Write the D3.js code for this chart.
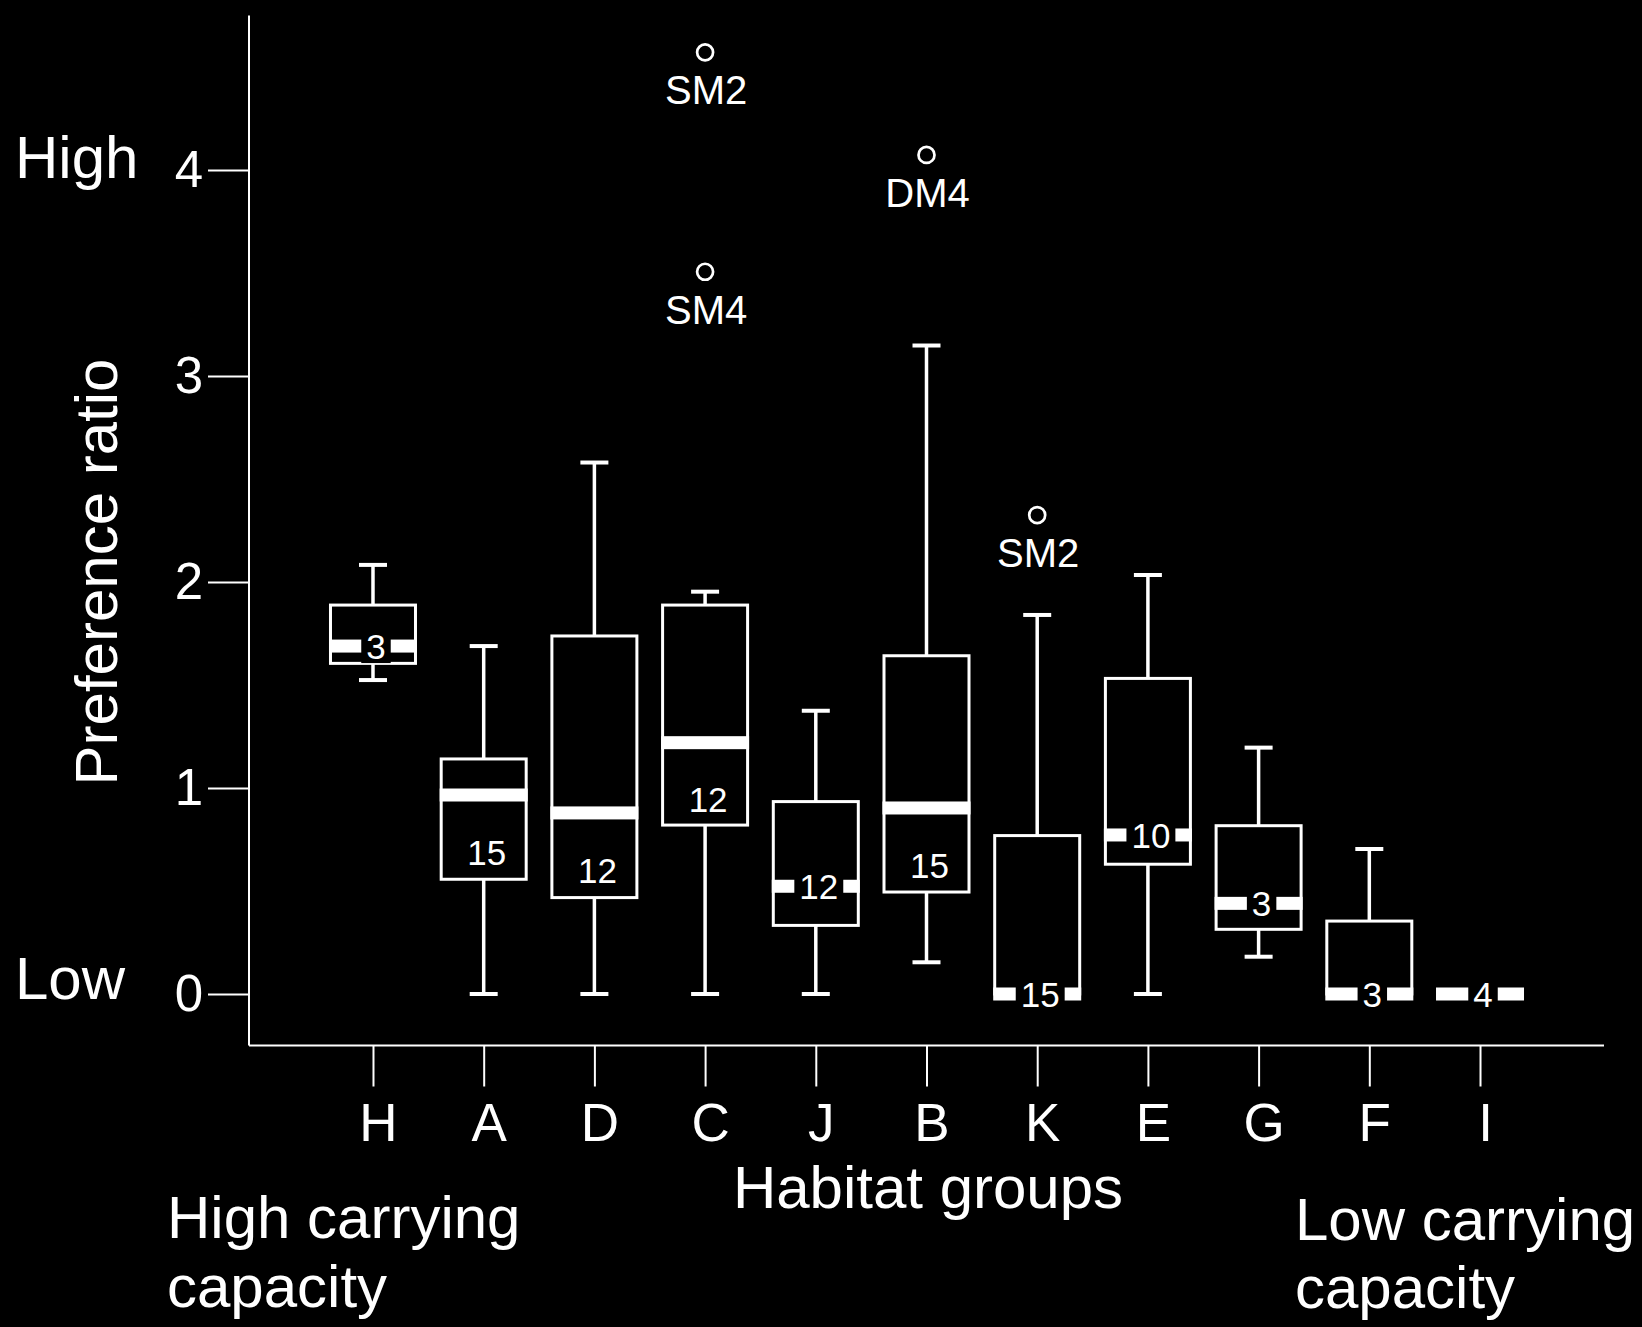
<!DOCTYPE html>
<html>
<head>
<meta charset="utf-8">
<script src="https://cdn.jsdelivr.net/npm/d3@7"></script>
<style>
  html, body { margin: 0; padding: 0; background: #000; }
  svg { display: block; }
  text { font-family: "Liberation Sans", Arial, Helvetica, sans-serif; fill: #fff; }
</style>
</head>
<body>
<svg id="chart" width="1642" height="1327"></svg>
<script>
// ---- data ----
const categories   = ["H", "A", "D", "C", "J", "B", "K", "E", "G", "F", "I"];
const whiskerLow   = [1.524, 0,     0,     0,     0,     0.154, 0,     0,     0.181, 0,     0];
const q1           = [1.605, 0.557, 0.468, 0.820, 0.333, 0.495, 0,     0.630, 0.314, 0,     0];
const median       = [1.689, 0.966, 0.879, 1.220, 0.523, 0.903, 0,     0.772, 0.440, 0,     0];
const q3           = [1.888, 1.141, 1.738, 1.888, 0.934, 1.642, 0.769, 1.532, 0.817, 0.354, 0];
const whiskerHigh  = [2.083, 1.689, 2.580, 1.953, 1.375, 3.148, 1.840, 2.034, 1.196, 0.704, 0];
const counts       = [3, 15, 12, 12, 12, 15, 15, 10, 3, 3, 4];
const countLabelAt = [1.689, 0.689, 0.602, 0.947, 0.523, 0.626, 0, 0.772, 0.440, 0, 0];

const outlierGroups = ["C", "C", "B", "K"];
const outlierValues = [4.571, 3.506, 4.073, 2.325];
const outlierLabels = ["SM2", "SM4", "DM4", "SM2"];

const yTicks = [0, 1, 2, 3, 4];

// ---- layout ----
const svg = d3.select("#chart");
const W = 1642, H = 1327;
svg.append("rect").attr("width", W).attr("height", H).attr("fill", "#000");

const axisX = 249;          // y-axis line position
const x = d3.scalePoint().domain(categories).range([axisX, 1604]).padding(1.12);
const y = d3.scaleLinear().domain([-0.25, 4.75]).range([1045.5, 15.5]);

const boxW = 85, capW = 28, bandH = 13;

// axes lines
svg.append("line").attr("x1", axisX).attr("x2", axisX)
  .attr("y1", y(4.75)).attr("y2", y(-0.25))
  .attr("stroke", "#fff").attr("stroke-width", 2);
svg.append("line").attr("x1", axisX).attr("x2", x.range()[1])
  .attr("y1", y(-0.25)).attr("y2", y(-0.25))
  .attr("stroke", "#fff").attr("stroke-width", 2);

// y axis
const yAxis = d3.axisLeft(y).tickValues(yTicks).tickSize(41).tickPadding(5).tickFormat(d3.format("d"));
const gy = svg.append("g").attr("transform", `translate(${axisX},0)`).call(yAxis);
gy.select(".domain").remove();
gy.selectAll(".tick line").attr("stroke", "#fff").attr("stroke-width", 2);
gy.selectAll(".tick text").attr("fill", "#fff").style("font-size", "51px")
  .style("font-family", '"Liberation Sans", Arial, sans-serif');

// x axis
const xAxis = d3.axisBottom(x).tickSize(41).tickPadding(17);
const gx = svg.append("g").attr("transform", `translate(0,${y(-0.25)})`).call(xAxis);
gx.select(".domain").remove();
gx.selectAll(".tick line").attr("stroke", "#fff").attr("stroke-width", 2);
gx.selectAll(".tick text").attr("fill", "#fff").attr("dx", 5).style("font-size", "53px")
  .style("font-family", '"Liberation Sans", Arial, sans-serif');

// labels
const lab = (t, xx, yy, size, anchor) => svg.append("text").attr("x", xx).attr("y", yy)
  .attr("text-anchor", anchor || "start").style("font-size", size + "px").text(t);

lab("High", 15, y(4) + 8, 60);
lab("Low", 15, y(0) + 5, 60);
svg.append("text")
  .attr("transform", `translate(117,${572}) rotate(-90)`)
  .attr("text-anchor", "middle").style("font-size", "60px").text("Preference ratio");
lab("Habitat groups", 928, 1208, 60, "middle");
lab("High carrying", 167, 1238, 60);
lab("capacity", 167, 1307, 60);
lab("Low carrying", 1295, 1240, 60);
lab("capacity", 1295, 1308, 60);

// boxes
const rows = categories.map((c, i) => ({
  c, lo: whiskerLow[i], q1: q1[i], med: median[i], q3: q3[i], hi: whiskerHigh[i],
  n: counts[i], nAt: countLabelAt[i]
}));

const g = svg.append("g");
rows.forEach(d => {
  const cx = x(d.c);
  const bg = g.append("g");
  // whiskers
  if (d.hi > d.q3) {
    bg.append("line").attr("x1", cx).attr("x2", cx).attr("y1", y(d.q3)).attr("y2", y(d.hi))
      .attr("stroke", "#fff").attr("stroke-width", 3.5);
    bg.append("line").attr("x1", cx - capW / 2).attr("x2", cx + capW / 2).attr("y1", y(d.hi)).attr("y2", y(d.hi))
      .attr("stroke", "#fff").attr("stroke-width", 4);
  }
  if (d.lo < d.q1) {
    bg.append("line").attr("x1", cx).attr("x2", cx).attr("y1", y(d.q1)).attr("y2", y(d.lo))
      .attr("stroke", "#fff").attr("stroke-width", 3.5);
    bg.append("line").attr("x1", cx - capW / 2).attr("x2", cx + capW / 2).attr("y1", y(d.lo)).attr("y2", y(d.lo))
      .attr("stroke", "#fff").attr("stroke-width", 4);
  }
  // box
  if (d.q3 > d.q1) {
    bg.append("rect").attr("x", cx - boxW / 2).attr("y", y(d.q3))
      .attr("width", boxW).attr("height", y(d.q1) - y(d.q3))
      .attr("fill", "#000").attr("stroke", "#fff").attr("stroke-width", 3);
  }
  // median band
  bg.append("rect").attr("x", cx - boxW / 2 - 1.5).attr("y", y(d.med) - bandH / 2)
    .attr("width", boxW + 3).attr("height", bandH).attr("fill", "#fff");
  // count label with black backing
  const ly = y(d.nAt);
  const bk = bg.append("rect").attr("fill", "#000");
  const t = bg.append("text").attr("x", cx + 3).attr("y", ly).attr("dy", "0.36em")
    .attr("text-anchor", "middle").style("font-size", "35px").text(d.n);
  const tw = t.node().getComputedTextLength();
  bk.attr("x", cx + 3 - tw / 2 - 5).attr("y", ly - 17).attr("width", tw + 10).attr("height", 34);
});

// outliers
outlierGroups.forEach((c, i) => {
  const cx = x(c), cy = y(outlierValues[i]);
  g.append("circle").attr("cx", cx).attr("cy", cy).attr("r", 8)
    .attr("fill", "none").attr("stroke", "#fff").attr("stroke-width", 2.7);
  g.append("text").attr("x", cx + 1).attr("y", cy + 52).attr("text-anchor", "middle")
    .style("font-size", "40px").text(outlierLabels[i]);
});
</script>
</body>
</html>
